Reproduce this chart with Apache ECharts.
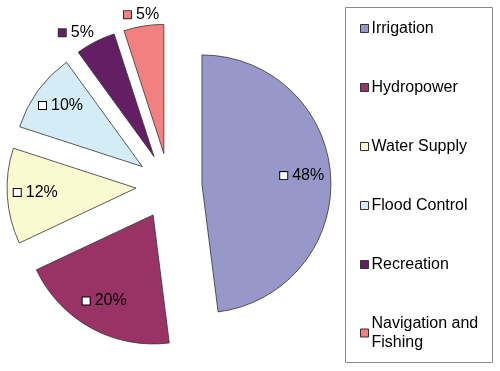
<!DOCTYPE html>
<html>
<head>
<meta charset="utf-8">
<script src="https://cdn.jsdelivr.net/npm/echarts@6/dist/echarts.min.js"></script>
<style>html,body{margin:0;padding:0;background:#fff;}#c{width:500px;height:371px;}</style>
</head>
<body>
<div id="c"></div>
<script>
const categories = ['Irrigation', 'Hydropower', 'Water Supply', 'Flood Control', 'Recreation', 'Navigation and\nFishing'];
const shares = [48, 20, 12, 10, 5, 5];
const colors = ['#9897CA', '#993366', '#FAF9D0', '#D3ECF5', '#641F64', '#F38080'];

const CENTER = [169, 186];
const R = 129;
const OFFSET = 33;
const FONT = '"Liberation Sans", Arial, sans-serif';

const rich = {
  t: { fontSize: 16, fontFamily: FONT, color: '#000' },
  g: { width: 5, height: 7 }
};
colors.forEach((c, i) => {
  rich['w' + i] = { width: 7, height: 7, backgroundColor: '#fff', borderColor: '#000', borderWidth: 1 };
  rich['c' + i] = { width: 7, height: 7, backgroundColor: c, borderColor: '#333', borderWidth: 1 };
});

function baseData() {
  return categories.map((name, i) => ({ name: name, value: shares[i], selected: true }));
}

const chart = echarts.init(document.getElementById('c'), null, { renderer: 'canvas' });
chart.setOption({
  animation: false,
  color: colors,
  graphic: [{
    type: 'rect',
    shape: { x: 345.5, y: 7.5, width: 147, height: 355 },
    style: { fill: 'none', stroke: '#8a8a8a', lineWidth: 1 },
    silent: true
  }],
  legend: {
    orient: 'vertical',
    left: 360,
    top: 19,
    padding: 0,
    itemWidth: 8,
    itemHeight: 8,
    itemGap: 40,
    icon: 'rect',
    selectedMode: false,
    data: categories,
    itemStyle: { borderColor: '#333', borderWidth: 1 },
    textStyle: { fontSize: 16, fontFamily: FONT, color: '#000', lineHeight: 19, padding: [0, 0, 0, -2] }
  },
  series: [
    {
      type: 'pie',
      center: CENTER,
      radius: R,
      startAngle: 90,
      clockwise: true,
      selectedMode: 'multiple',
      selectedOffset: OFFSET,
      avoidLabelOverlap: false,
      emphasis: { disabled: true },
      label: { show: false },
      labelLine: { show: false },
      itemStyle: { borderColor: '#333', borderWidth: 0.8 },
      data: baseData()
    },
    {
      type: 'pie',
      center: CENTER,
      radius: [66, R],
      startAngle: 90,
      clockwise: true,
      silent: true,
      selectedMode: 'multiple',
      selectedOffset: OFFSET,
      avoidLabelOverlap: false,
      emphasis: { disabled: true },
      itemStyle: { color: 'rgba(0,0,0,0)', borderWidth: 0 },
      labelLine: { show: false },
      label: {
        show: true,
        position: 'inside',
        rich: rich,
        formatter: p => p.value > 6 ? '{w' + p.dataIndex + '|}{g|}{t|' + p.value + '%}' : ''
      },
      labelLayout: p => ({ dy: -2 }),
      data: baseData()
    },
    {
      type: 'pie',
      center: CENTER,
      radius: [R, 150],
      startAngle: 90,
      clockwise: true,
      silent: true,
      selectedMode: 'multiple',
      selectedOffset: OFFSET,
      avoidLabelOverlap: false,
      emphasis: { disabled: true },
      itemStyle: { color: 'rgba(0,0,0,0)', borderWidth: 0 },
      labelLine: { show: false },
      label: {
        show: true,
        position: 'inside',
        rich: rich,
        formatter: p => p.value <= 6 ? '{c' + p.dataIndex + '|}{g|}{t|' + p.value + '%}' : ''
      },
      labelLayout: p => (p.dataIndex === 4 ? { dx: -13, dy: 3 } : { dy: 2 }),
      data: baseData()
    }
  ]
});
</script>
</body>
</html>
